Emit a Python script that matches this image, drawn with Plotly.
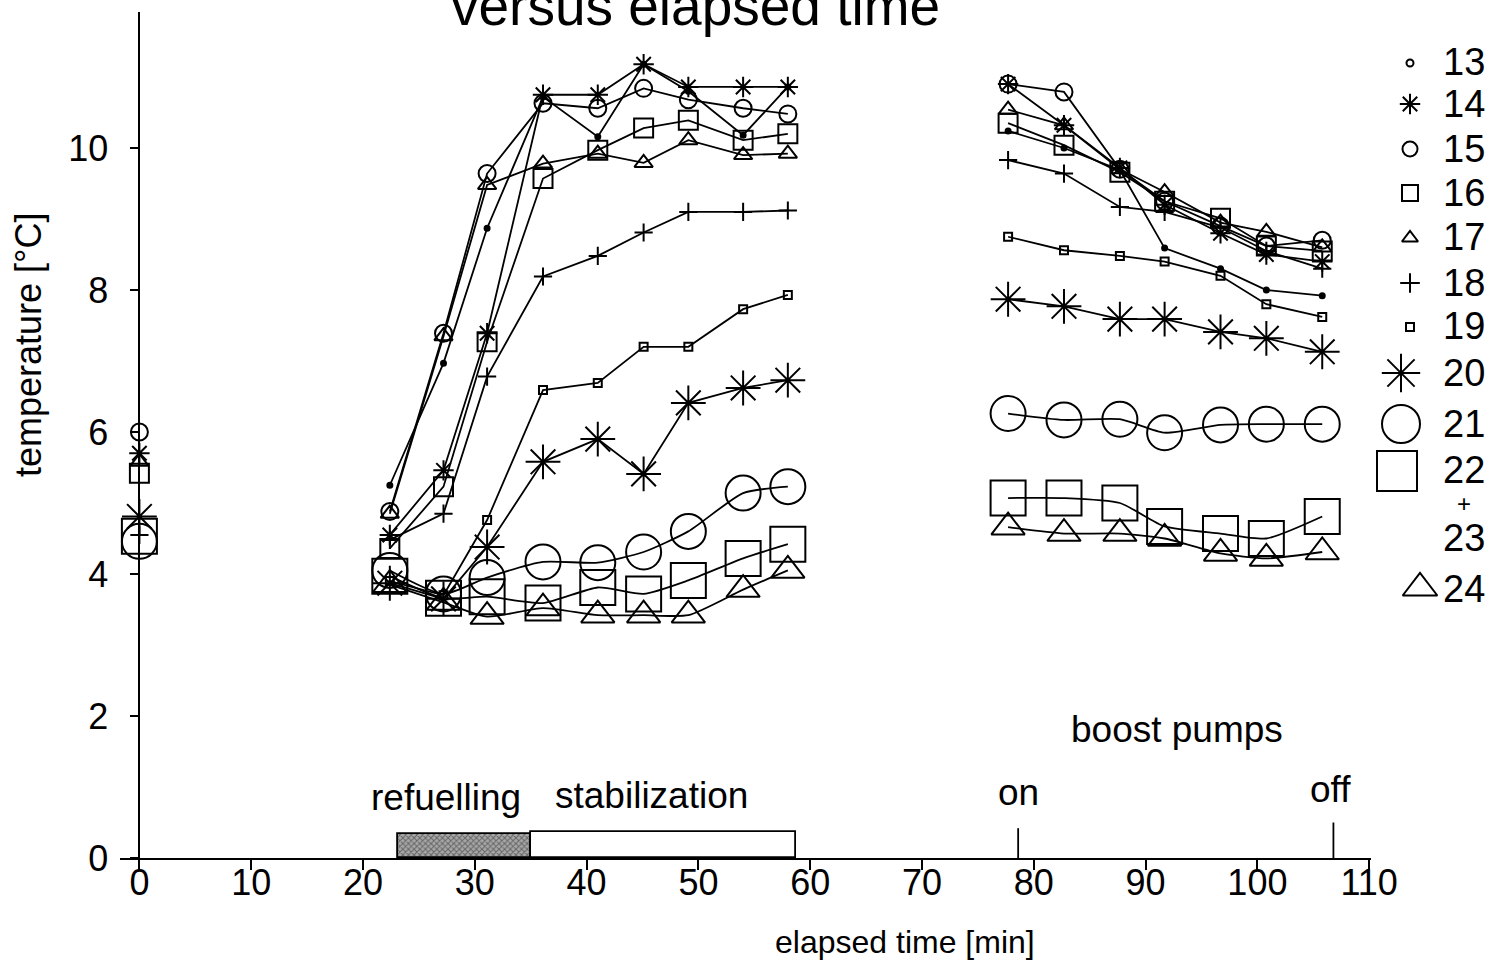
import plotly.graph_objects as go

W, H = 1505, 963

# ---------------- data ----------------
times = [0.0, 22.4, 27.2, 31.1, 36.1, 41.0, 45.1, 49.1, 54.0, 58.0,
         77.7, 82.7, 87.7, 91.7, 96.7, 100.8, 105.8]
segment_bounds = [0, 1, 10, 17]   # start / refuelling+stabilization / boost pumps

s13 = [None, 5.25, 6.97, 8.87, 10.72, 10.16, 11.18, 10.80, 10.18, 10.86, 10.24, 10.00, 9.69, 8.59, 8.30, 8.00, 7.92]
s14 = [5.70, 4.55, 5.46, 7.39, 10.75, 10.75, 11.18, 10.86, 10.86, 10.86, 10.90, 10.32, 9.72, 9.20, 8.80, 8.50, 8.40]
s15 = [6.00, 4.88, 7.39, 9.64, 10.63, 10.56, 10.84, 10.68, 10.56, 10.48, 10.90, 10.79, 9.70, 9.25, 8.90, 8.62, 8.70]
s16 = [5.42, 4.36, 5.23, 7.27, 9.57, 9.97, 10.28, 10.39, 10.11, 10.20, 10.35, 10.04, 9.66, 9.25, 9.01, 8.62, 8.55]
s17 = [5.58, 4.85, 7.35, 9.48, 9.78, 9.92, 9.79, 10.11, 9.90, 9.92, 10.54, 10.32, 9.70, 9.38, 8.95, 8.82, 8.60]
s18 = [4.55, 4.48, 4.85, 6.78, 8.19, 8.48, 8.81, 9.10, 9.10, 9.12, 9.83, 9.64, 9.17, 9.10, 8.88, 8.55, 8.30]
s19 = [None, 3.90, 3.70, 4.76, 6.59, 6.69, 7.20, 7.20, 7.73, 7.93, 8.75, 8.56, 8.48, 8.40, 8.20, 7.80, 7.62]
s20 = [4.81, 3.87, 3.65, 4.38, 5.58, 5.90, 5.41, 6.41, 6.62, 6.73, 7.87, 7.77, 7.59, 7.59, 7.41, 7.32, 7.13]
s21 = [4.46, 4.05, 3.72, 3.95, 4.17, 4.16, 4.31, 4.60, 5.14, 5.23, 6.26, 6.17, 6.18, 5.99, 6.10, 6.11, 6.11]
s22 = [4.53, 3.97, 3.66, 3.68, 3.59, 3.81, 3.72, 3.91, 4.22, 4.42, 5.07, 5.07, 5.00, 4.67, 4.57, 4.50, 4.81]
s24 = [None, 3.85, 3.60, 3.40, 3.52, 3.42, 3.42, 3.42, 3.78, 4.05, 4.66, 4.57, 4.57, 4.50, 4.29, 4.22, 4.31]

sensor_labels = ["13", "14", "15", "16", "17", "18", "19", "20", "21", "22<br>+<br>23", "24"]
sensor_values = [s13, s14, s15, s16, s17, s18, s19, s20, s21, s22, s24]

phase_names = ["refuelling", "stabilization"]
phase_start = [23.1, 35.0]
phase_end = [35.0, 58.7]
phase_height = [0.34, 0.37]

pump_events = ["on", "off"]
pump_times = [78.6, 106.8]

x_ticks = list(range(0, 111, 10))
y_ticks = [0, 2, 4, 6, 8, 10]

# ---------------- styles ----------------
FONT = "Liberation Sans, Arial, Helvetica, sans-serif"
symbols = ["circle", "asterisk-open", "circle-open", "square-open", "triangle-up-open",
           "cross-thin-open", "square-open", "asterisk-open", "circle-open", "square-open",
           "triangle-up-open"]
sizes = [5, 17, 17, 19, 16, 13, 8, 29, 35, 35, 29]
smooth = [False, False, False, False, False, False, False, False, True, True, True]

legend_symbols = ["circle-open", "asterisk-open", "circle-open", "square-open", "triangle-up-open",
                  "cross-thin-open", "square-open", "asterisk-open", "circle-open", "square-open",
                  "triangle-up-open"]
legend_sizes = [7, 17, 15, 16, 14, 14, 8, 32, 38, 40, 30]
legend_mx = [1410, 1410, 1410, 1410, 1410, 1410, 1410, 1401, 1401, 1397, 1420]
legend_my = [63, 104, 149, 193, 238, 283, 327, 373, 424, 471, 588]
legend_ty = [62, 104, 149, 193, 237, 283, 326, 373, 424, 471, 589]
split_label_y = [470, 503, 538]

# pixel -> paper helpers
def px(x):
    return x / W

def py(y):
    return (H - y) / H

X0_PX, X_SCALE = 139.4, 11.18  # t=0 pixel, pixels per minute
Y0_PX, Y_SCALE = 858.0, 71.0
x_left_px, x_right_px = 120.0, 1371.0
y_top_px = 12.0
x_range = [(x_left_px - X0_PX) / X_SCALE, (x_right_px - X0_PX) / X_SCALE]
y_range = [0, (Y0_PX - y_top_px) / Y_SCALE]

fig = go.Figure()

# phase bars
for name, a, b, h in zip(phase_names, phase_start, phase_end, phase_height):
    dark = name == "refuelling"
    fig.add_trace(go.Bar(
        x=[(a + b) / 2], y=[h], width=[b - a], base=0,
        marker=dict(color="#9a9a9a" if dark else "white",
                    line=dict(color="black", width=1.8),
                    pattern=dict(shape="x" if dark else "", fgcolor="#222", bgcolor="#a8a8a8",
                                 size=4, solidity=0.45)),
        hoverinfo="skip", showlegend=False))

# pump event ticks
for ev, t in zip(pump_events, pump_times):
    fig.add_shape(type="line", x0=t, x1=t, y0=0, y1=0.42 if ev == "on" else 0.5,
                  xref="x", yref="y", line=dict(color="black", width=1.8))

# sensor series
for lab, vals, sym, sz, sm in zip(sensor_labels, sensor_values, symbols, sizes, smooth):
    xs, ys = [], []
    for i in range(len(segment_bounds) - 1):
        lo, hi = segment_bounds[i], segment_bounds[i + 1]
        for j in range(lo, hi):
            if vals[j] is not None:
                xs.append(times[j])
                ys.append(vals[j])
        xs.append(None)
        ys.append(None)
    fig.add_trace(go.Scatter(
        x=xs, y=ys, mode="lines+markers", name=lab, connectgaps=False,
        line=dict(color="black", width=1.8, shape="spline" if sm else "linear", smoothing=0.6),
        marker=dict(symbol=sym, size=sz, color="black",
                    line=dict(color="black", width=2)),
        cliponaxis=False, showlegend=False))

# custom legend (separate pixel axes covering the whole page)
for sym, sz, mx, my in zip(legend_symbols, legend_sizes, legend_mx, legend_my):
    fig.add_trace(go.Scatter(
        x=[mx], y=[my], mode="markers", xaxis="x2", yaxis="y2",
        marker=dict(symbol=sym, size=sz, color="black", line=dict(color="black", width=2)),
        hoverinfo="skip", showlegend=False, cliponaxis=False))

annotations = []
for lab, ty in zip(sensor_labels, legend_ty):
    if "<br>" in lab:
        parts = lab.split("<br>")
        for part, yy in zip(parts, split_label_y):
            small = part == "+"
            annotations.append(dict(x=px(1455 if small else 1441), y=py(yy), xref="paper", yref="paper",
                                    text=part, showarrow=False, xanchor="left", yanchor="middle",
                                    font=dict(size=24 if small else 38, family=FONT, color="black")))
    else:
        annotations.append(dict(x=px(1441), y=py(ty), xref="paper", yref="paper", text=lab,
                                showarrow=False, xanchor="left", yanchor="middle",
                                font=dict(size=38, family=FONT, color="black")))

text_items = [
    ("refuelling", 446, 797, 37),
    ("stabilization", 651, 795, 37),
    ("on", 1018, 792, 37),
    ("off", 1330, 789, 37),
    ("boost pumps", 1177, 729, 37),
    ("elapsed time [min]", 905, 942, 32),
]
for txt, x, y, fs in text_items:
    annotations.append(dict(x=px(x), y=py(y), xref="paper", yref="paper", text=txt,
                            showarrow=False, xanchor="center", yanchor="middle",
                            font=dict(size=fs, family=FONT, color="black")))

annotations.append(dict(x=px(28), y=py(345), xref="paper", yref="paper", text="temperature [°C]",
                        showarrow=False, textangle=-90, xanchor="center", yanchor="middle",
                        font=dict(size=36, family=FONT, color="black")))
annotations.append(dict(x=px(695), y=py(6), xref="paper", yref="paper", text="versus elapsed time",
                        showarrow=False, xanchor="center", yanchor="middle",
                        font=dict(size=55, family=FONT, color="black")))

fig.update_layout(
    width=W, height=H, autosize=False,
    margin=dict(l=0, r=0, t=0, b=0, pad=0),
    paper_bgcolor="white", plot_bgcolor="rgba(0,0,0,0)",
    showlegend=False, bargap=0,
    font=dict(family=FONT, color="black"),
    xaxis=dict(domain=[px(x_left_px), px(x_right_px)], range=x_range,
               tickvals=x_ticks, ticktext=[str(v) for v in x_ticks],
               showline=True, linecolor="black", linewidth=1.8,
               ticks="outside", ticklen=10, tickwidth=1.5, tickcolor="black",
               showgrid=False, zeroline=False, anchor="y", automargin=False,
               ticklabelstandoff=-18,
               tickfont=dict(size=36, family=FONT, color="black")),
    yaxis=dict(domain=[py(Y0_PX), py(y_top_px)], range=y_range,
               tickvals=y_ticks, ticktext=[str(v) for v in y_ticks],
               showline=True, linecolor="black", linewidth=1.8,
               ticks="outside", ticklen=9, tickwidth=1.5, tickcolor="black",
               showgrid=False, zeroline=False, anchor="free", position=px(X0_PX),
               ticklabelstandoff=14, automargin=False,
               tickfont=dict(size=36, family=FONT, color="black")),
    xaxis2=dict(domain=[0, 1], range=[0, W], visible=False, anchor="y2", automargin=False),
    yaxis2=dict(domain=[0, 1], range=[H, 0], visible=False, anchor="x2", automargin=False),
    annotations=annotations,
)

fig.write_html("out.html", config={"responsive": False})
